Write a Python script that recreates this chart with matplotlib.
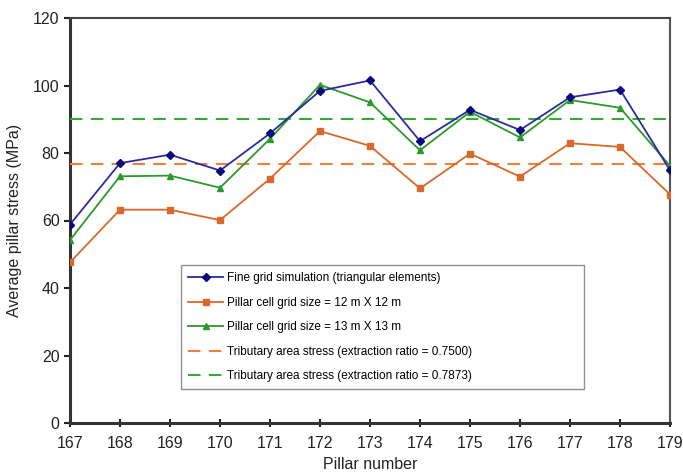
import numpy as np
import matplotlib.pyplot as plt

plt.rcParams['font.family'] = ['Liberation Sans', 'DejaVu Sans']

# Pillar numbers and average stresses (MPa)
pilares = list(range(167, 180))
malla_fina = [58.8, 77.0, 79.5, 74.8, 85.8, 98.4, 101.5, 83.5, 92.8, 86.8, 96.5, 98.8, 74.9]
celda_12m = [47.6, 63.2, 63.2, 60.1, 72.4, 86.5, 82.1, 69.5, 79.8, 73.0, 82.9, 81.8, 67.7]
celda_13m = [54.2, 73.1, 73.3, 69.7, 84.2, 100.2, 95.0, 80.8, 92.2, 84.6, 95.7, 93.4, 76.2]
tributaria_0750 = 76.6
tributaria_07873 = 90.0

fig = plt.figure(figsize=(6.83, 4.75), dpi=100)
ax = fig.add_axes([70 / 683, 1 - 423 / 475, 600 / 683, 405 / 475])

ax.plot(pilares, malla_fina, color='#2b2ba0', lw=1.3, marker='D', ms=4.5,
        mfc='#0a0a80', mec='#0a0a80', label='Fine grid simulation (triangular elements)', zorder=5)
ax.plot(pilares, celda_12m, color='#d9692a', lw=1.3, marker='s', ms=4.5,
        mfc='#d9692a', mec='#d9692a', label='Pillar cell grid size = 12 m X 12 m', zorder=4)
ax.plot(pilares, celda_13m, color='#2a9a2a', lw=1.3, marker='^', ms=5,
        mfc='#2a9a2a', mec='#2a9a2a', label='Pillar cell grid size = 13 m X 13 m', zorder=4)
ax.axhline(tributaria_0750, color='#ec8040', lw=1.5, ls=(0, (6, 4)),
           label='Tributary area stress (extraction ratio = 0.7500)', zorder=3)
ax.axhline(tributaria_07873, color='#33aa33', lw=1.5, ls=(0, (6, 4)),
           label='Tributary area stress (extraction ratio = 0.7873)', zorder=3)

ax.set_xlim(167, 179)
ax.set_ylim(0, 120)
ax.set_xticks(pilares)
ax.set_yticks(np.arange(0, 121, 20))
ax.tick_params(axis='both', labelsize=11.5, colors='#222222', width=1.5)
ax.tick_params(axis='x', direction='inout', length=6, pad=6)
ax.tick_params(axis='y', direction='out', length=4)

for lado in ['left', 'bottom']:
    ax.spines[lado].set_linewidth(2.2)
    ax.spines[lado].set_color('#333333')
ax.spines['top'].set_linewidth(1.5)
ax.spines['top'].set_color('#444444')
ax.spines['right'].set_linewidth(1.5)
ax.spines['right'].set_color('#555555')

ax.set_ylabel('Average pillar stress (MPa)', fontsize=11.5, color='#222222', labelpad=8)
ax.set_xlabel('Pillar number', fontsize=11.5, color='#222222', labelpad=5)

leg = ax.legend(loc='lower left', bbox_to_anchor=(0.175, 0.069, 0.692, 0.324),
                mode='expand', fontsize=8.5, frameon=True, fancybox=False,
                edgecolor='#777777', handlelength=3.0, labelspacing=1.05,
                borderpad=0.6, handletextpad=0.3, markerscale=0.85)
leg.get_frame().set_linewidth(1.0)

fig.savefig('out.png', dpi=100)
